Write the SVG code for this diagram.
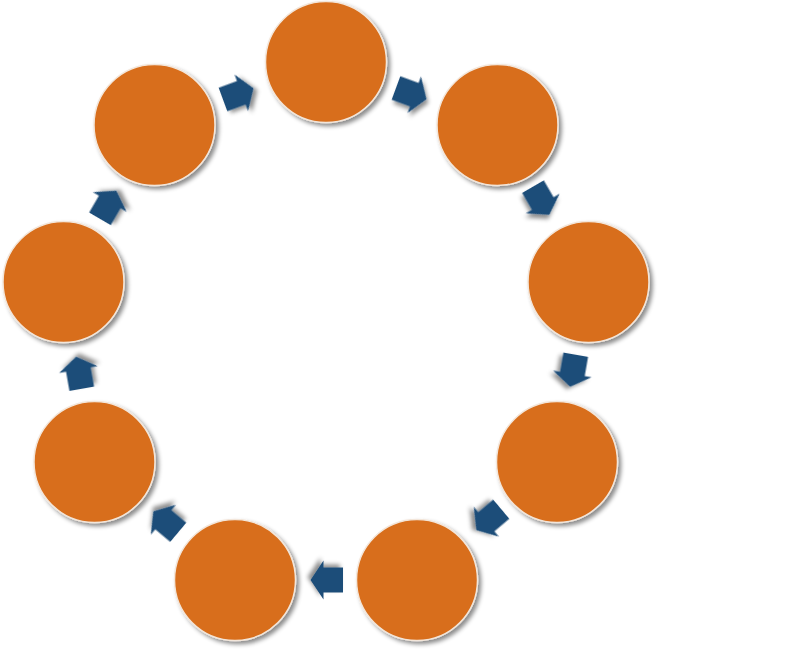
<svg xmlns="http://www.w3.org/2000/svg" width="804" height="654" viewBox="0 0 804 654">
<defs>
<filter id="sh" x="-30%" y="-30%" width="160%" height="160%">
<feDropShadow dx="3" dy="3" stdDeviation="2.2" flood-color="#000" flood-opacity="0.45"/>
</filter>
<path id="arr" d="M-16,-12.5 L3.5,-12.5 L3.5,-19.5 L16.5,0 L3.5,19.5 L3.5,12.5 L-16,12.5 Z"/>
</defs>
<style>
.node circle{fill:#D86E1B;stroke:#F3E6DA;stroke-width:1.5;filter:url(#sh)}
#connectors use{fill:#1F4E79;filter:url(#sh)}
</style>
<rect width="804" height="654" fill="#FFFFFF"/>
<g id="connectors">
<use href="#arr" transform="translate(411,93.5) rotate(20.2)"/>
<use href="#arr" transform="translate(541,200.5) rotate(59.9)"/>
<use href="#arr" transform="translate(573,370.5) rotate(99.9)"/>
<use href="#arr" transform="translate(489,519.5) rotate(139.9)"/>
<use href="#arr" transform="translate(327,580) rotate(180)"/>
<use href="#arr" transform="translate(166,522) rotate(220)"/>
<use href="#arr" transform="translate(79,373) rotate(260)"/>
<use href="#arr" transform="translate(108,205) rotate(-59.8)"/>
<use href="#arr" transform="translate(238,94) rotate(-20.2)"/>
</g>
<g id="n1" class="node"><circle cx="326" cy="62" r="60.5"/></g>
<g id="n2" class="node"><circle cx="497.5" cy="125" r="60.5"/></g>
<g id="n3" class="node"><circle cx="588.5" cy="282" r="60.5"/></g>
<g id="n4" class="node"><circle cx="557" cy="462" r="60.5"/></g>
<g id="n5" class="node"><circle cx="417" cy="580" r="60.5"/></g>
<g id="n6" class="node"><circle cx="235" cy="580" r="60.5"/></g>
<g id="n7" class="node"><circle cx="94.5" cy="462" r="60.5"/></g>
<g id="n8" class="node"><circle cx="63.5" cy="282" r="60.5"/></g>
<g id="n9" class="node"><circle cx="154.5" cy="125" r="60.5"/></g>
</svg>
